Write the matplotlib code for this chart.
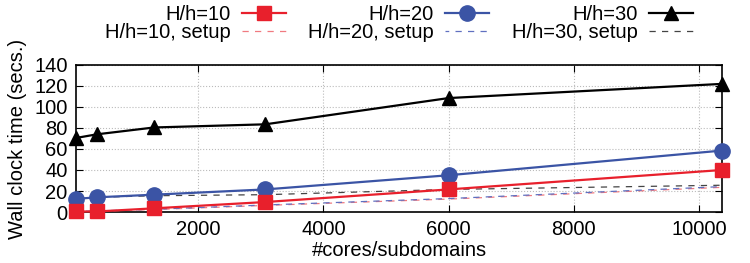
import matplotlib
matplotlib.use('Agg')
import matplotlib.pyplot as plt

plt.rcParams['font.family'] = ['Liberation Sans', 'DejaVu Sans']

# cores / subdomains
cores = [48, 384, 1296, 3072, 6000, 10368]

# wall clock times (secs.)
t10 = [0.5, 0.5, 3.5, 9.5, 21.5, 40]
t20 = [12.5, 14, 16.5, 21.5, 35, 58.5]
t30 = [70.5, 74, 80.5, 83.5, 108.5, 122]

# setup times
s10 = [0.3, 0.8, 2.3, 6.3, 12.3, 23.5]
s20 = [0.5, 1.0, 2.6, 6.7, 12.8, 24.2]
s30 = [13, 14, 15.5, 16.5, 21.5, 25.5]

labels = ['H/h=10', 'H/h=10, setup', 'H/h=20', 'H/h=20, setup', 'H/h=30', 'H/h=30, setup']

red = '#e8202c'
blue = '#3b54a5'
fs = 14.5

fig = plt.figure(figsize=(7.5, 2.63), dpi=100)
ax = fig.add_axes([0.1013, 0.1939, 0.8614, 0.559])

l1, = ax.plot(cores, t10, color=red, lw=1.6, marker='s', ms=10.5, zorder=5, clip_on=False)
l2, = ax.plot(cores, s10, color='#f07a80', lw=0.9, ls=(0, (5, 5)), zorder=3)
l3, = ax.plot(cores, t20, color=blue, lw=1.6, marker='o', ms=11, zorder=4, clip_on=False)
l4, = ax.plot(cores, s20, color='#6070c0', lw=0.9, ls=(2, (5, 5)), zorder=3)
l5, = ax.plot(cores, t30, color='black', lw=1.6, marker='^', ms=10, zorder=4, clip_on=False)
l6, = ax.plot(cores, s30, color='#444444', lw=0.9, ls=(0, (5, 5)), zorder=3)

ax.set_xlim(48, 10368)
ax.set_ylim(0, 140)
ax.set_xticks([2000, 4000, 6000, 8000, 10000])
ax.set_yticks(range(0, 141, 20))
ax.tick_params(direction='in', top=True, right=True, labelsize=fs, length=5, pad=6)
ax.grid(True, ls=':', color='#bbbbbb', lw=0.8)
for s in ax.spines.values():
    s.set_linewidth(1.2)

ax.set_xlabel('#cores/subdomains', fontsize=fs, labelpad=1)
ax.set_ylabel('Wall clock time (secs.)', fontsize=fs, labelpad=5)

fig.legend([l1, l2, l3, l4, l5, l6], labels, ncol=3, markerfirst=False,
           loc='upper left', bbox_to_anchor=(0.14, 0.981), frameon=False,
           fontsize=fs, handlelength=2.2, handletextpad=0.55, columnspacing=1.1,
           labelspacing=-0.05, borderaxespad=0, borderpad=0)

fig.savefig('out.png', dpi=100)
